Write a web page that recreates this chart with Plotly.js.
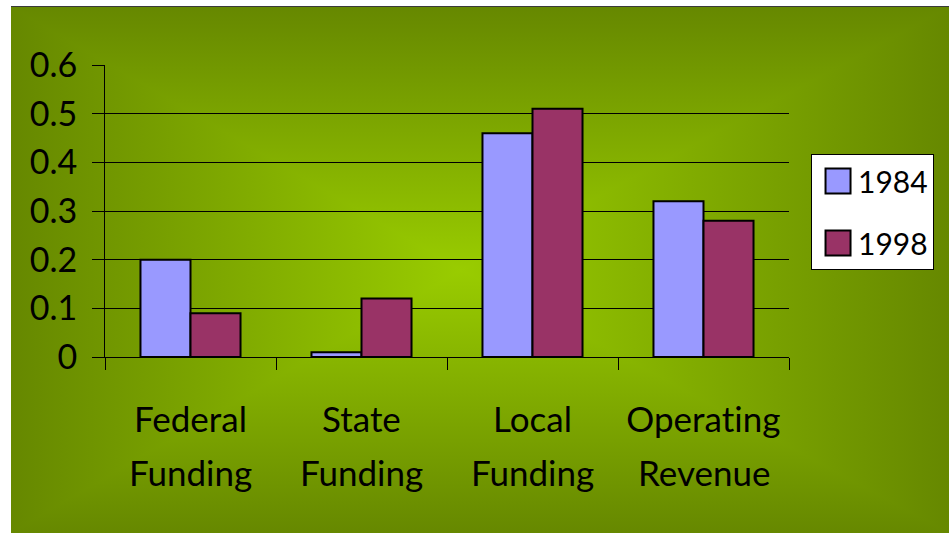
<!DOCTYPE html>
<html>
<head>
<meta charset="utf-8">
<script src="https://cdn.plot.ly/plotly-3.0.1.min.js"></script>
<style>
  html, body { margin: 0; padding: 0; background: #ffffff; width: 949px; height: 533px; overflow: hidden; }
  #topline { position: absolute; left: 11px; top: 6px; width: 938px; height: 1px; background: #3a3a3a; }
  #bg {
    position: absolute; left: 11px; top: 7px; width: 938px; height: 526px;
    background:
      linear-gradient(to right, #668800 0%, #99cc00 48%, #668800 100%),
      linear-gradient(to bottom, #668800 0%, #99cc00 50%, #668800 100%);
    background-blend-mode: darken;
  }
  #chart { position: absolute; left: 0; top: 0; width: 949px; height: 533px; }
  #chart text, #chart tspan {
    font-variant-ligatures: none !important;
    font-feature-settings: "liga" 0, "clig" 0, "dlig" 0 !important;
  }
</style>
</head>
<body>
<div id="topline"></div>
<div id="bg"></div>
<div id="chart"></div>
<script>
// ---- data ----
const categoryLine1 = ['Federal', 'State', 'Local', 'Operating'];
const categoryLine2 = ['Funding', 'Funding', 'Funding', 'Revenue'];
const seriesNames = ['1984', '1998'];
const values1984 = [0.20, 0.01, 0.46, 0.32];
const values1998 = [0.09, 0.12, 0.51, 0.28];
const yTickVals = [0, 0.1, 0.2, 0.3, 0.4, 0.5, 0.6];
const yTickText = ['0', '0.1', '0.2', '0.3', '0.4', '0.5', '0.6'];

const categories = categoryLine1.map((a, i) => a + ' ' + categoryLine2[i]);
const FONT = 'Lato, "Open Sans", "DejaVu Sans", sans-serif';

const traces = [
  {
    type: 'bar', name: seriesNames[0], x: categories, y: values1984,
    marker: { color: '#9999ff', line: { color: '#000000', width: 2 } },
    legendgroup: 'a', hoverinfo: 'x+y+name'
  },
  {
    type: 'bar', name: seriesNames[1], x: categories, y: values1998,
    marker: { color: '#993366', line: { color: '#000000', width: 2 } },
    legendgroup: 'b', hoverinfo: 'x+y+name'
  }
];

const annotations = [];
categories.forEach((c, i) => {
  annotations.push({
    xref: 'x', yref: 'paper', x: c, y: -0.209, yanchor: 'middle', xanchor: 'center',
    text: categoryLine1[i], showarrow: false, font: { family: FONT, size: 35, color: '#000' }
  });
  annotations.push({
    xref: 'x', yref: 'paper', x: c, y: -0.394, yanchor: 'middle', xanchor: 'center',
    text: categoryLine2[i], showarrow: false, font: { family: FONT, size: 35, color: '#000' }
  });
});

const layout = {
  width: 949, height: 533,
  margin: { l: 105, r: 160, t: 65, b: 176, pad: 0 },
  paper_bgcolor: 'rgba(0,0,0,0)',
  plot_bgcolor: 'rgba(0,0,0,0)',
  font: { family: FONT, color: '#000000' },
  barmode: 'group',
  bargap: 0.415,
  bargroupgap: 0,
  xaxis: {
    type: 'category',
    categoryorder: 'array', categoryarray: categories,
    showticklabels: false,
    tickson: 'boundaries',
    ticks: 'outside', ticklen: 12, tickwidth: 1, tickcolor: '#000000',
    showline: true, linecolor: '#000000', linewidth: 1,
    showgrid: false, zeroline: false, fixedrange: true
  },
  yaxis: {
    range: [0, 0.6],
    tickvals: yTickVals, ticktext: yTickText,
    ticks: 'outside', ticklen: 12, tickwidth: 1, tickcolor: '#000000',
    ticklabelstandoff: 8,
    tickfont: { family: FONT, size: 34, color: '#000000' },
    showline: true, linecolor: '#000000', linewidth: 1,
    showgrid: true, gridcolor: '#000000', gridwidth: 1,
    zeroline: false, fixedrange: true
  },
  showlegend: true,
  legend: {
    x: 1.0322, xanchor: 'left', y: 0.695, yanchor: 'top',
    bgcolor: '#ffffff', bordercolor: '#000000', borderwidth: 1,
    font: { family: FONT, size: 30, color: '#000000' },
    itemwidth: 36,
    traceorder: 'grouped', tracegroupgap: 20
  },
  annotations: annotations
};

function enlargeSwatches() {
  document.querySelectorAll('#chart .legend .legendpoints path').forEach(function (p) {
    p.setAttribute('d', 'M15.5,12.5H-9.5V-12.5H15.5Z');
  });
}

Plotly.newPlot('chart', traces, layout, { displayModeBar: false, staticPlot: true }).then(function () {
  enlargeSwatches();
  setTimeout(enlargeSwatches, 50);
});
</script>
</body>
</html>
